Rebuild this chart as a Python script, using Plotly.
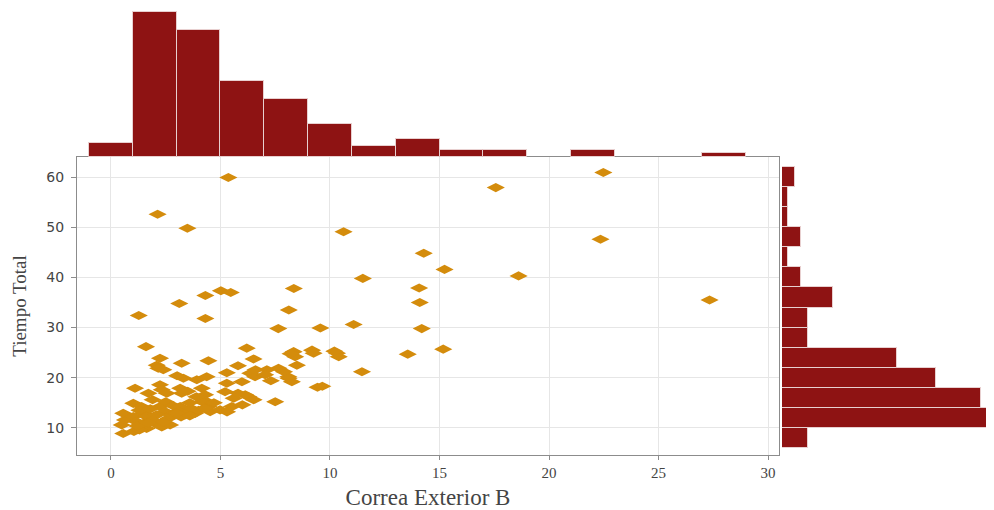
import plotly.graph_objects as go

# Scatter data: Correa Exterior B (x) vs Tiempo Total (y)
correa_b = [
    0.56, 0.49, 0.64, 0.56,
    2.13, 1.27, 1.6, 2.24, 2.09, 2.16, 2.39, 2.24, 2.32, 2.55, 1.1, 1.71, 1.02, 1.4, 1.48, 2.24,
    2.47, 1.02, 1.17, 1.63, 1.48, 1.63, 2.09, 2.01, 2.32, 2.62, 2.78, 2.7, 1.05,
    1.3, 1.3, 1.8, 1.9, 1.2, 2.4, 2.9, 1.7, 2.5, 1.9, 2.85,
    3.49, 4.31, 3.12, 4.31, 4.45, 3.23, 3.31, 4.37, 3.92, 3.16, 3.23, 4.15, 4.3, 4.22, 4.45,
    4.53, 4.98, 3.84, 4.15, 3.16, 3.38, 3.08, 3.38,
    3.2, 3.5, 3.7, 3.02, 4.0, 3.6, 4.3, 3.6, 3.9, 4.7, 3.5, 3.02,
    5.36, 5.02, 5.47, 6.2, 6.51, 5.29, 6.36, 6.58, 5.29, 5.98, 5.21, 6.28, 6.51, 6.13, 5.52,
    5.6, 6.0, 5.3, 5.8, 6.6, 5.8,
    8.35, 8.12, 7.64, 8.34, 8.41, 8.49, 8.11, 8.26, 7.12, 7.04, 7.65, 8.1, 7.5,
    8.2, 7.3, 7.9,
    10.62, 9.56, 9.18, 9.25, 10.32, 10.4, 9.43, 9.65, 10.2,
    11.5, 11.08, 11.46,
    14.28, 14.07, 14.1, 14.19, 13.55,
    15.23, 15.17,
    17.57, 18.61,
    22.48, 22.35,
    27.33,
]
tiempo_total = [
    8.9, 10.6, 11.6, 12.9,
    52.6, 32.4, 26.2, 23.9, 22.5, 21.9, 21.6, 18.6, 17.6, 16.9, 17.9, 16.9, 14.9, 14.25, 12.9, 14.25,
    13.25, 12.25, 11.25, 12.25, 10.9, 9.9, 12.6, 10.9, 10.2, 11.9, 12.6, 10.6, 9.3,
    9.6, 13.5, 13.8, 11.6, 10.4, 11.2, 13.0, 11.0, 15.2, 15.6, 14.4,
    49.8, 36.4, 34.8, 31.8, 23.4, 22.9, 19.9, 20.2, 19.6, 17.9, 16.9, 17.9, 16.6, 15.6, 14.25,
    13.25, 13.6, 12.9, 15.2, 14.25, 13.6, 13.25, 12.6,
    12.2, 13.0, 13.8, 12.9, 13.5, 12.4, 13.9, 15.0, 16.2, 15.0, 17.3, 20.4,
    59.9, 37.35, 37.0, 25.9, 23.75, 21.0, 20.9, 20.2, 18.9, 19.2, 17.2, 16.2, 15.6, 16.6, 14.25,
    15.9, 14.6, 13.2, 16.9, 21.6, 22.4,
    37.8, 33.5, 29.8, 25.2, 24.2, 22.5, 19.9, 19.2, 21.6, 20.6, 21.9, 20.2, 15.2,
    24.8, 19.4, 21.2,
    49.1, 29.9, 25.5, 24.9, 24.9, 24.2, 18.1, 18.3, 25.3,
    39.8, 30.6, 21.2,
    44.8, 37.9, 35.0, 29.8, 24.7,
    41.6, 25.7,
    57.9, 40.3,
    60.9, 47.6,
    35.5,
]

x_tick_vals = [0, 5, 10, 15, 20, 25, 30]
y_tick_vals = [10, 20, 30, 40, 50, 60]

PT_COLOR = "#D48C0C"
BAR_COLOR = "#8E1313"
EDGE = "#E8D0D0"

fig = go.Figure()

fig.add_trace(go.Scatter(
    x=correa_b, y=tiempo_total, mode="markers",
    marker=dict(symbol="diamond-wide", size=13, color=PT_COLOR),
    xaxis="x", yaxis="y", showlegend=False,
))

fig.add_trace(go.Histogram(
    x=correa_b, xbins=dict(start=-1, end=31, size=2),
    marker=dict(color=BAR_COLOR, line=dict(color=EDGE, width=1)),
    xaxis="x2", yaxis="y2", showlegend=False,
))

fig.add_trace(go.Histogram(
    y=tiempo_total, ybins=dict(start=6, end=66, size=4),
    marker=dict(color=BAR_COLOR, line=dict(color=EDGE, width=1)),
    xaxis="x3", yaxis="y3", showlegend=False,
))

# page body has an 8px default margin: figure drawn at (8, 8)
OFF = 8
W, H = 994 - OFF, 510 - OFF


def fx(px):
    return (px - OFF) / W


def fy(py):
    return (H - (py - OFF)) / H


x_dom = [fx(77), fx(779)]
y_dom = [fy(455), fy(157)]
x_rng = [-1.55, 30.5]
y_rng = [4.6, 64]

axis_common = dict(
    showgrid=True, gridcolor="#E6E6E6", gridwidth=1,
    showline=True, linecolor="#8C8C8C", linewidth=1, mirror=True,
    ticks="outside", tickcolor="#8C8C8C", zeroline=False,
)

fig.update_layout(
    width=W, height=H,
    margin=dict(l=0, r=0, t=0, b=0),
    paper_bgcolor="white", plot_bgcolor="white",
    bargap=0,
    xaxis=dict(
        domain=x_dom, range=x_rng, tickvals=x_tick_vals, anchor="y", ticklen=4,
        tickfont=dict(family="Liberation Serif", size=15, color="#444"),
        title=dict(text="Correa Exterior B", standoff=9,
                   font=dict(family="Liberation Serif", size=23, color="#444")),
        **axis_common,
    ),
    yaxis=dict(
        domain=y_dom, range=y_rng, tickvals=y_tick_vals, anchor="x", ticklen=5,
        ticklabelstandoff=4,
        tickfont=dict(family="DejaVu Sans", size=14, color="#444"),
        title=dict(text="Tiempo Total", standoff=14,
                   font=dict(family="Liberation Serif", size=19, color="#444")),
        **axis_common,
    ),
    xaxis2=dict(domain=x_dom, range=x_rng, anchor="y2", visible=False),
    yaxis2=dict(domain=[fy(157), 1.0], range=[0, 40 * (157 - OFF) / 145], anchor="x2", visible=False),
    xaxis3=dict(domain=[fx(782), 1.0], range=[0, 33.1], anchor="y3", visible=False),
    yaxis3=dict(domain=y_dom, range=y_rng, anchor="x3", visible=False),
)

fig.write_html("out.html")
